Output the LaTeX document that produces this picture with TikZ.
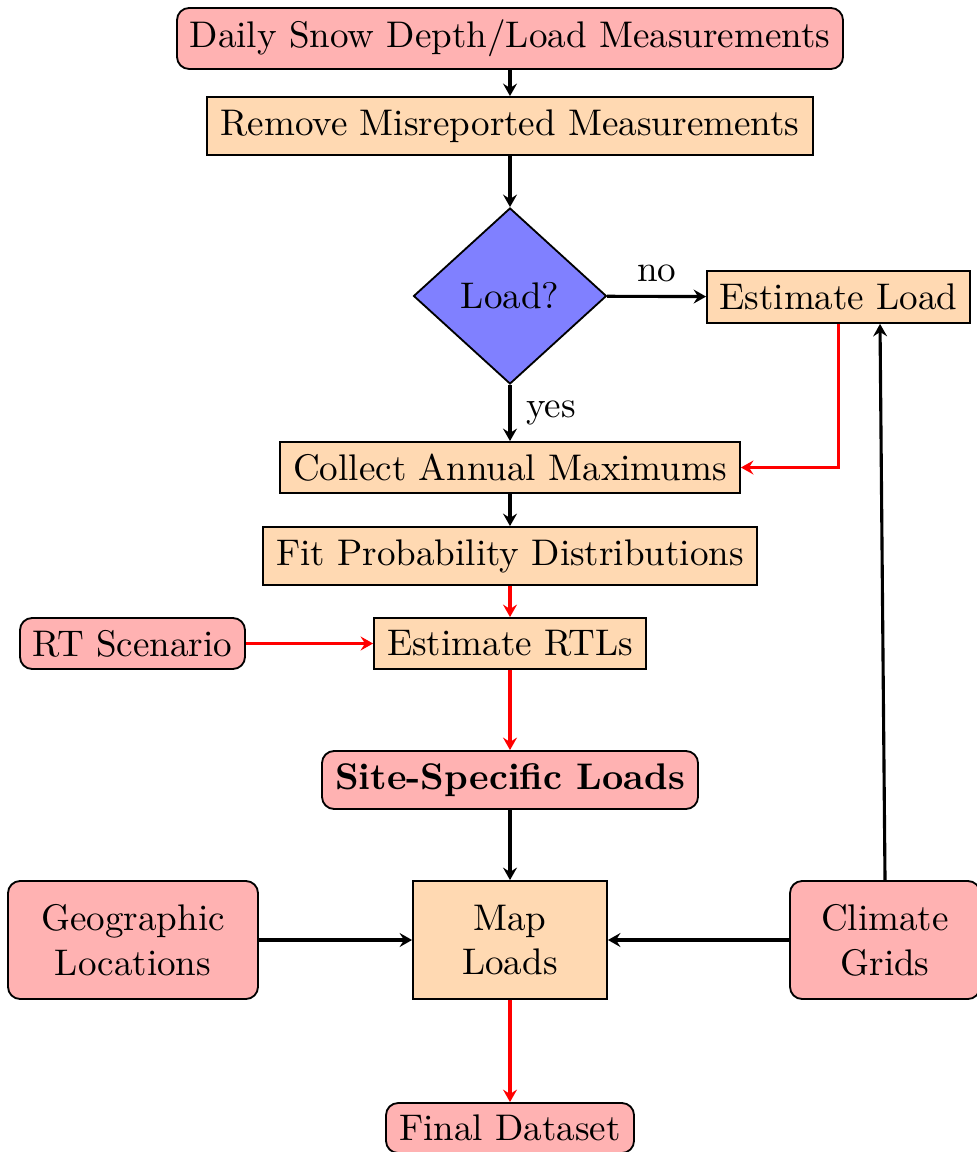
\documentclass[tikz,border=0pt]{standalone}
\usetikzlibrary{shapes.geometric,arrows.meta}
\def\U{0.2725pt}
\tikzset{
  base/.style={draw=black, line width=0.5pt, inner sep=0pt, align=center, text=black, font=\fontsize{10.1pt}{12.2pt}\selectfont},
  term/.style={base, rounded corners=3.3pt, fill=red!30},
  proc/.style={base, fill=orange!30},
  dec/.style={base, diamond, fill=blue!50, aspect=1.1},
  tip/.style={-{Stealth[length=3.4pt,width=3.8pt,inset=1.2pt]}},
  blk/.style={draw=black, line width=0.85pt, tip},
  redarr/.style={draw=red, line width=0.85pt, tip},
  lbl/.style={inner sep=0pt, text=black, font=\fontsize{10.1pt}{12.2pt}\selectfont}
}
\begin{document}
\begin{tikzpicture}[x=\U, y=-\U]
\useasboundingbox (0,0) rectangle (977,1152);
\node[term, minimum width=666*\U, minimum height=61*\U] (daily) at (510,38.5) {Daily Snow Depth/Load Measurements};
\node[proc, minimum width=606*\U, minimum height=58*\U] (remove) at (510,126) {Remove Misreported Measurements};
\node[dec, minimum width=193*\U, minimum height=176*\U] (load) at (510,296) {Load?};
\node[proc, minimum width=263*\U, minimum height=52*\U] (estload) at (838.5,297) {Estimate Load};
\node[proc, minimum width=460*\U, minimum height=51*\U] (collect) at (510,467.5) {Collect Annual Maximums};
\node[proc, minimum width=494*\U, minimum height=58*\U] (fit) at (510,556) {Fit Probability Distributions};
\node[term, minimum width=225*\U, minimum height=51*\U] (rt) at (132.5,643.5) {RT Scenario};
\node[proc, minimum width=272*\U, minimum height=51*\U] (rtl) at (510,643.5) {Estimate RTLs};
\node[term, minimum width=376*\U, minimum height=58*\U] (site) at (510,780) {\textbf{Site-Specific Loads}};
\node[proc, minimum width=194*\U, minimum height=118*\U] (map) at (510,940) {Map\\[0pt]Loads};
\node[term, minimum width=250*\U, minimum height=118*\U] (geo) at (133,940) {Geographic\\[0pt]Locations};
\node[term, minimum width=190*\U, minimum height=118*\U] (climate) at (885,940) {Climate\\[0pt]Grids};
\node[term, minimum width=248*\U, minimum height=50*\U] (final) at (510,1128) {Final Dataset};

\draw[blk] (daily) -- (remove);
\draw[blk] (remove) -- (load);
\draw[blk] (load) -- node[lbl, above=3.5pt] (no) {no} (estload);
\draw[blk] (load) -- node[lbl, right=4pt] (yes) {yes} (collect);
\draw[redarr] (estload.south) |- (collect.east);
\draw[blk] (collect) -- (fit);
\draw[redarr] (fit) -- (rtl);
\draw[redarr] (rt) -- (rtl);
\draw[redarr] (rtl) -- (site);
\draw[blk] (site) -- (map);
\draw[blk] (geo) -- (map);
\draw[blk] (climate) -- (map);
\draw[blk] (climate.north) -- ([xshift=41.5*\U]estload.south);
\draw[redarr] (map) -- (final);
\end{tikzpicture}
\end{document}
